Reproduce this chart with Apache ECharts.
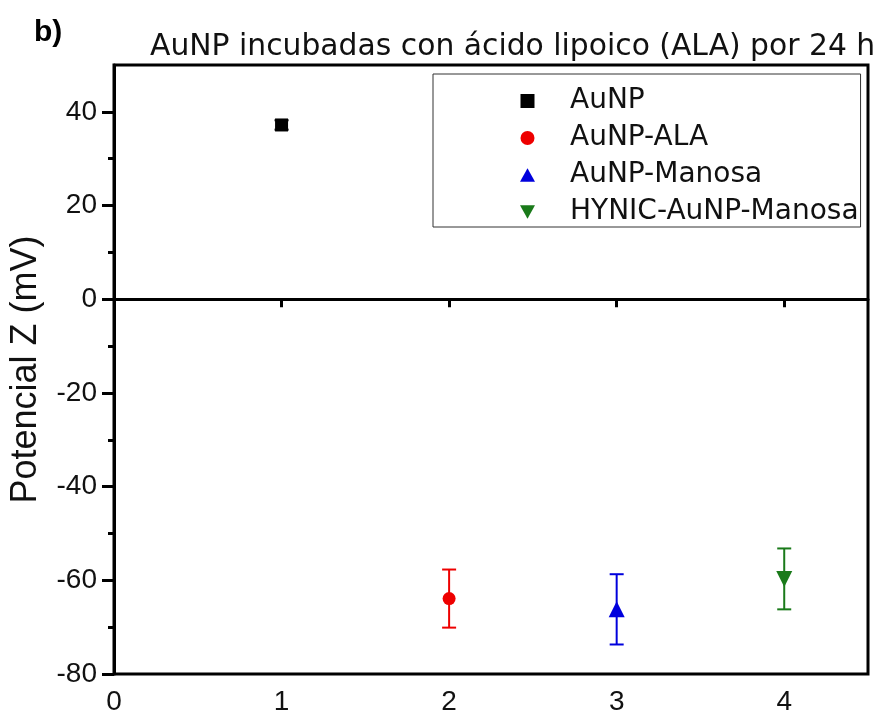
<!DOCTYPE html>
<html>
<head>
<meta charset="utf-8">
<script src="https://cdn.jsdelivr.net/npm/echarts@6/dist/echarts.min.js"></script>
<style>html,body{margin:0;padding:0;background:#fff;}#c{width:884px;height:724px;}</style>
</head>
<body>
<div id="c"></div>
<script>
const seriesNames = ['AuNP', 'AuNP-ALA', 'AuNP-Manosa', 'HYNIC-AuNP-Manosa'];
const xValues = [1, 2, 3, 4];
const meanValues = [37.2, -63.9, -66.2, -59.7];
const errValues = [1.0, 6.2, 7.5, 6.5];
const yTickLabels = [-80, -60, -40, -20, 0, 20, 40];
const yMinorTicks = [-70, -50, -30, -10, 10, 30];
const xTickLabels = [0, 1, 2, 3, 4];
const colors = ['#000000', '#ee0000', '#0000dd', '#1a7a1a'];
const symbols = ['rect', 'circle', 'triangle', 'triangle'];
const symbolRotate = [0, 0, 0, 180];
const symbolSizes = [13, 13, 16, 16];

const chart = echarts.init(document.getElementById('c'));
const tickFont = {fontFamily: 'Liberation Sans', fontSize: 28, color: '#111'};

const series = [];
seriesNames.forEach((name, i) => {
  series.push({
    name: name + ' err',
    type: 'custom',
    xAxisIndex: 0, yAxisIndex: 0,
    data: [[xValues[i], meanValues[i], errValues[i]]],
    renderItem: function (params, api) {
      const x = api.value(0), m = api.value(1), e = api.value(2);
      const top = api.coord([x, m + e]);
      const bot = api.coord([x, m - e]);
      const hw = 7;
      const st = {stroke: colors[i], lineWidth: 2};
      return {type: 'group', children: [
        {type: 'line', shape: {x1: top[0], y1: top[1], x2: bot[0], y2: bot[1]}, style: st},
        {type: 'line', shape: {x1: top[0] - hw, y1: top[1], x2: top[0] + hw, y2: top[1]}, style: st},
        {type: 'line', shape: {x1: bot[0] - hw, y1: bot[1], x2: bot[0] + hw, y2: bot[1]}, style: st}
      ]};
    },
    silent: true, z: 3
  });
});
seriesNames.forEach((name, i) => {
  const s = {
    name: name,
    type: 'scatter',
    data: [[xValues[i], meanValues[i]]],
    symbol: symbols[i],
    symbolRotate: symbolRotate[i],
    symbolSize: symbolSizes[i],
    itemStyle: {color: colors[i], opacity: 1},
    z: 4
  };
  if (i === 0) {
    s.markLine = {
      silent: true, symbol: 'none', animation: false,
      label: {show: false},
      lineStyle: {color: '#000', width: 3, type: 'solid'},
      data: [{yAxis: 0}]
    };
  }
  series.push(s);
});

const legendIcons = ['path://M0,0L10,0L10,10L0,10Z', 'circle', 'path://M5,0L10,9L0,9Z', 'path://M0,0L10,0L5,9Z'];

chart.setOption({
  animation: false,
  backgroundColor: '#fff',
  title: {
    text: 'AuNP incubadas con ácido lipoico (ALA) por 24 h',
    left: 150, top: 32, padding: 0,
    textStyle: {fontFamily: 'DejaVu Sans', fontSize: 29.8, fontWeight: 'normal', color: '#111'}
  },
  graphic: [{
    type: 'text', left: 34, top: 18,
    style: {text: 'b)', fontFamily: 'Liberation Sans', fontSize: 30, fontWeight: 'bold', fill: '#000'}
  }],
  legend: {
    orient: 'vertical',
    left: 433, top: 74,
    data: seriesNames.map((n, i) => ({name: n, icon: legendIcons[i]})),
    itemWidth: 15, itemHeight: 14,
    itemGap: 9,
    padding: [13, 2, 1, 87],
    borderColor: '#333', borderWidth: 1,
    textStyle: {fontFamily: 'DejaVu Sans', fontSize: 28, color: '#111', lineHeight: 26, padding: [0, 0, 0, 30]},
    selectedMode: false
  },
  grid: {left: 114, top: 65, right: 16, bottom: 50, show: true, borderColor: '#000', borderWidth: 3, backgroundColor: 'transparent', outerBoundsMode: 'none', containLabel: false},
  xAxis: {
    type: 'value', min: 0, max: 4.5, interval: 1,
    axisLine: {show: true, lineStyle: {color: '#000', width: 3}},
    axisTick: {show: true, inside: false, length: 8, lineStyle: {color: '#000', width: 3}, customValues: xTickLabels},
    axisLabel: Object.assign({margin: 14, customValues: xTickLabels}, tickFont),
    splitLine: {show: false}
  },
  yAxis: [{
    type: 'value', min: -80, max: 50, interval: 20,
    name: 'Potencial Z (mV)', nameLocation: 'middle', nameGap: 70, nameRotate: 90,
    nameTextStyle: {fontFamily: 'Liberation Sans', fontSize: 36, color: '#111'},
    axisLine: {show: true, lineStyle: {color: '#000', width: 3}},
    axisTick: {show: true, length: 12, lineStyle: {color: '#000', width: 3}, customValues: yTickLabels},
    axisLabel: Object.assign({margin: 17, customValues: yTickLabels}, tickFont),
    splitLine: {show: false}
  }, {
    type: 'value', min: -80, max: 50, interval: 20, position: 'left',
    axisLine: {show: false},
    axisTick: {show: true, length: 6, lineStyle: {color: '#000', width: 3}, customValues: yMinorTicks},
    axisLabel: {show: false},
    splitLine: {show: false}
  }],
  series: series
});
</script>
</body>
</html>
